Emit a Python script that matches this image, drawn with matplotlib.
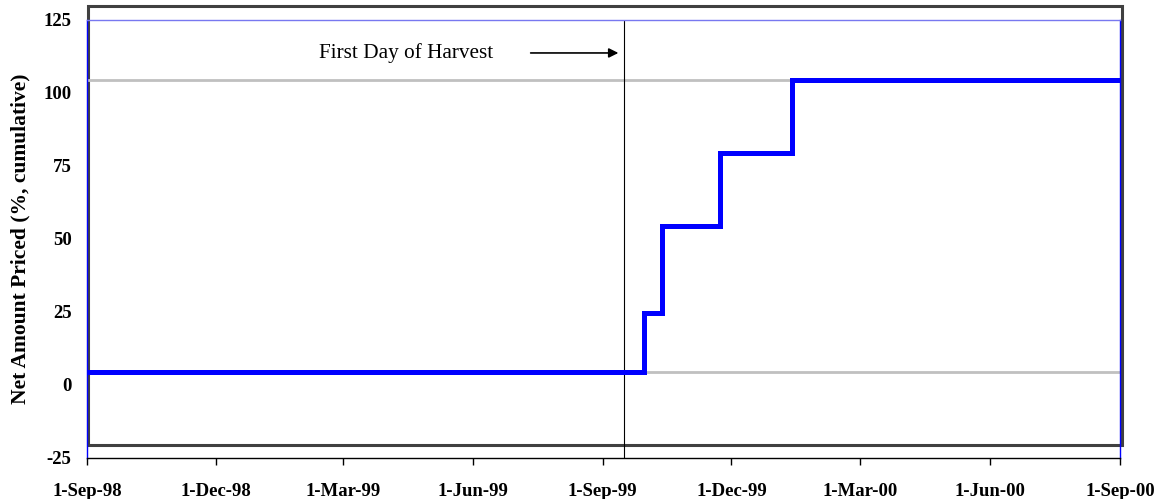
import datetime as dt
import matplotlib
matplotlib.use("Agg")
from matplotlib import pyplot as plt
from matplotlib.patches import Rectangle

# cumulative pricing steps (date the level starts, level in %)
step_dates = ["1998-09-01", "1999-09-30", "1999-10-13", "1999-11-23", "2000-01-13", "2000-09-01"]
step_levels = [4.5, 24.5, 54.5, 79.5, 104.5, 104.5]

ref_levels = [4.5, 104.5]  # grey guide lines
harvest_date = "1999-09-16"
harvest_label = "First Day of Harvest"

tick_dates = ["1998-09-01", "1998-12-01", "1999-03-01", "1999-06-01", "1999-09-01",
              "1999-12-01", "2000-03-01", "2000-06-01", "2000-09-01"]
tick_labels = ["1-Sep-98", "1-Dec-98", "1-Mar-99", "1-Jun-99", "1-Sep-99",
               "1-Dec-99", "1-Mar-00", "1-Jun-00", "1-Sep-00"]
y_ticks = [-25, 0, 25, 50, 75, 100, 125]

to_date = lambda s: dt.datetime.strptime(s, "%Y-%m-%d")

plt.rcParams["font.family"] = ["Liberation Serif", "DejaVu Serif"]

fig = plt.figure(figsize=(11.61, 4.99), dpi=100)
ax = fig.add_axes([0.0749, 0.0822, 0.8898, 0.8778])

xs = [to_date(d) for d in step_dates]
ax.set_xlim(to_date(tick_dates[0]), to_date(tick_dates[-1]))
ax.set_ylim(-25, 125)

for lv in ref_levels:
  ax.axhline(lv, color="#c0c0c0", lw=2.0, zorder=1)

hx = to_date(harvest_date)
ax.plot([hx, hx], [-25, 125], color="black", lw=0.8, zorder=2)

ax.step(xs, step_levels, where="post", color="#0000ff", lw=3.6, zorder=3,
        solid_joinstyle="miter", solid_capstyle="butt", clip_on=False)

# annotation with arrow pointing at the harvest line
ax.annotate("", xy=(hx - dt.timedelta(days=2), 113.7),
            xytext=(hx - dt.timedelta(days=68), 113.7),
            arrowprops=dict(arrowstyle="-|>", color="black", lw=1.2, mutation_scale=14))
ax.text(to_date("1999-04-15"), 113.7, harvest_label, ha="center", va="center",
        fontsize=15.3)

# outer dark frame (offset like the original)
ax.add_patch(Rectangle((0.001, 0.030), 1.001, 1.002, transform=ax.transAxes,
                       fill=False, edgecolor="#404040", lw=2.2, clip_on=False, zorder=0))

ax.set_xticks([to_date(d) for d in tick_dates])
ax.set_xticklabels(tick_labels, fontweight="bold", fontsize=13.5)
ax.set_yticks(y_ticks)
ax.set_yticklabels([str(v) for v in y_ticks], fontweight="bold", fontsize=13.5)
ax.tick_params(axis="x", direction="out", length=5, width=1, pad=13, colors="black")
ax.tick_params(axis="y", length=0, pad=11)

ax.spines["bottom"].set_color("black")
ax.spines["left"].set_color("#0000ff")
ax.spines["right"].set_color("#0000ff")
ax.spines["top"].set_color("#7878f0")
for s in ax.spines.values():
  s.set_linewidth(1.0)

ax.set_ylabel("Net Amount Priced (%, cumulative)", fontweight="bold", fontsize=15.5)
ax.yaxis.set_label_coords(-0.055, 0.5)

fig.savefig("out.png", dpi=100)
